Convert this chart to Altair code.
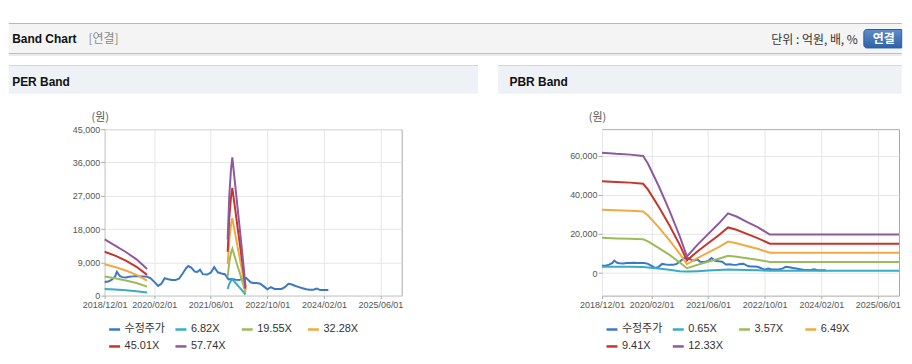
import altair as alt
import pandas as pd

FONT = "Liberation Sans, Noto Sans CJK KR"
CJK = "Noto Sans CJK KR, Liberation Sans"

# ---------------- data ----------------
X_START = (2018, 12, 1)
X_END = (2025, 12, 1)
X_TICKS = [(2018, 12, 1), (2020, 2, 1), (2021, 6, 1), (2022, 10, 1), (2024, 2, 1), (2025, 6, 1)]

PRICE_DATES = [
    "2018/12/01", "2019/01/01", "2019/02/01", "2019/03/01", "2019/03/16", "2019/04/10",
    "2019/05/01", "2019/06/01", "2019/07/01", "2019/08/01", "2019/09/01", "2019/10/01",
    "2019/11/01", "2019/12/01", "2020/01/01", "2020/02/01", "2020/03/05", "2020/04/01",
    "2020/05/01", "2020/06/01", "2020/07/01", "2020/08/01", "2020/09/01", "2020/10/01",
    "2020/11/01", "2020/11/20", "2020/12/15", "2021/01/15", "2021/02/05", "2021/03/01",
    "2021/03/25", "2021/05/01", "2021/06/01", "2021/07/01", "2021/08/01", "2021/09/01",
    "2021/10/01", "2021/11/01", "2021/12/01", "2022/01/01", "2022/02/01", "2022/03/01",
    "2022/04/01", "2022/05/10", "2022/06/01", "2022/07/01", "2022/08/01", "2022/09/01",
    "2022/10/01", "2022/11/01", "2022/12/01", "2023/01/01", "2023/02/01", "2023/03/01",
    "2023/04/01", "2023/05/01", "2023/06/01", "2023/07/01", "2023/08/01", "2023/09/01",
    "2023/10/01", "2023/11/01", "2023/12/01", "2024/01/01", "2024/02/01", "2024/03/10",
]
PRICE_VALUES = [
    3700, 3800, 4300, 5200, 6400, 5300,
    5000, 4900, 5100, 5200, 5300, 5200,
    5200, 5100, 4700, 3700, 2600, 3200,
    4700, 4400, 4200, 4200, 4600, 5900,
    7400, 8000, 7600, 6500, 6400, 7000,
    5800, 5700, 6200, 7700, 6300, 6000,
    5800, 4400, 4500, 4300, 4200, 4600,
    4800, 3600, 3400, 3400, 3200, 2500,
    1700, 2300, 1800, 1800, 1800, 2300,
    3200, 3000, 2600, 2300, 2000, 1700,
    1600, 1600, 1900, 1500, 1500, 1500,
]

PER_LABELS = ["수정주가", "6.82X", "19.55X", "32.28X", "45.01X", "57.74X"]
PER_DATES = [
    "2018/12/01", "2019/03/01", "2019/06/01", "2019/09/01", "2019/12/01",
    "2021/10/25", "2021/11/08", "2021/11/22", "2021/12/04", "2021/12/18", "2022/01/05",
    "2022/01/20", "2022/02/05", "2022/02/20", "2022/03/08", "2022/03/28",
]
PER_SEGMENTS = [0, 0, 0, 0, 0, 1, 1, 1, 1, 1, 1, 1, 1, 1, 1, 1]
PER_682 = [1800, 1650, 1450, 1200, 850, 1800, 3190, 4020, 4420, 3910, 3270, 2730, 2170, 1630, 1040, 300]
PER_1955 = [5150, 4700, 4100, 3400, 2440, 5150, 9140, 11510, 12660, 11210, 9380, 7820, 6230, 4670, 2980, 810]
PER_3228 = [8500, 7750, 6800, 5600, 4020, 8500, 15090, 19010, 20910, 18500, 15480, 12910, 10290, 7710, 4920, 1340]
PER_4501 = [11850, 10800, 9450, 7800, 5610, 11850, 21050, 26500, 29150, 25800, 21600, 18000, 14340, 10760, 6860, 1870]
PER_5774 = [15200, 13500, 11800, 9800, 7200, 15200, 27000, 34000, 37400, 33100, 27700, 23100, 18400, 13800, 8800, 2400]

PBR_LABELS = ["수정주가", "0.65X", "3.57X", "6.49X", "9.41X", "12.33X"]
PBR_DATES = [
    "2018/12/01", "2019/04/01", "2019/08/01", "2019/11/20", "2020/01/01", "2020/04/01",
    "2020/07/01", "2020/10/01", "2020/12/01", "2021/03/01", "2021/06/01", "2021/09/01",
    "2021/11/20", "2022/02/01", "2022/05/01", "2022/08/01", "2022/11/15", "2025/12/01",
]
PBR_SEGMENTS = [0] * 18
PBR_065 = [3200, 3200, 3200, 3150, 2900, 2300, 1700, 1000, 800, 1000, 1300, 1600, 1800, 1700, 1600, 1400, 1200, 1200]
PBR_357 = [18000, 17700, 17500, 17300, 16200, 12900, 9400, 5400, 2500, 4200, 5800, 7300, 8800, 8400, 7600, 6800, 5700, 5700]
PBR_649 = [32400, 32100, 31800, 31500, 29400, 23500, 17000, 9800, 4500, 7600, 10500, 13300, 16100, 15200, 13800, 12400, 10400, 10400]
PBR_941 = [46900, 46500, 46200, 45600, 42600, 34000, 24700, 14300, 6500, 11000, 15200, 19300, 23300, 22100, 20000, 17900, 15000, 15000]
PBR_1233 = [61500, 60900, 60500, 59800, 55800, 44600, 32300, 18700, 8500, 14400, 19900, 25300, 30500, 28900, 26200, 23500, 19700, 19700]

PER_Y_DOMAIN = [0, 45000]
PER_Y_TICKS = [0, 9000, 18000, 27000, 36000, 45000]
PBR_Y_DOMAIN = [-11500, 73500]
PBR_Y_TICKS = [0, 20000, 40000, 60000]

COLORS = ["#3c79c4", "#38abc6", "#9bbb59", "#f1aa42", "#c6352b", "#8e599f"]

# ---------------- layout (page pixels) ----------------
PLOT_W, PLOT_H = 298, 167
GAP = 201
OXL, OY = 104.3, 128.5
OXR = OXL + PLOT_W + GAP
RIGHT = 904


def dt(t):
    return alt.DateTime(year=t[0], month=t[1], date=t[2])


def build_df(labels, dates, segs, bands):
    frames = [pd.DataFrame({"date": PRICE_DATES, "value": PRICE_VALUES,
                            "series": labels[0], "seg": "price"})]
    for name, vals in zip(labels[1:], bands):
        frames.append(pd.DataFrame({"date": dates, "value": vals, "series": name,
                                    "seg": [f"{name}_{s}" for s in segs]}))
    return pd.concat(frames, ignore_index=True)


ONE = pd.DataFrame({"k": [0]})


def box(x1, x2, y1, y2, ox, fill, **kw):
    return alt.Chart(ONE).mark_rect(fill=fill, **kw).encode(
        x=alt.value(x1 - ox), x2=alt.value(x2 - ox),
        y=alt.value(y1 - OY), y2=alt.value(y2 - OY))


def label(txt, x, y, ox, **kw):
    return alt.Chart(pd.DataFrame({"t": [txt]})).mark_text(**kw).encode(
        x=alt.value(x - ox), y=alt.value(y - OY), text="t:N")


def panel(df, labels, ydomain, yticks, decos):
    lines = alt.Chart(df).mark_line(strokeWidth=2).encode(
        x=alt.X("date:T",
                scale=alt.Scale(domain=[dt(X_START), dt(X_END)]),
                axis=alt.Axis(values=[dt(t) for t in X_TICKS], format="%Y/%m/%d",
                              title=None, labelFont=FONT, labelFontSize=9,
                              labelColor="#555", labelFlush=False, labelOverlap=False,
                              tickColor="#aaaaaa", tickSize=3, labelPadding=2,
                              domain=False, gridColor="#e6e6e6")),
        y=alt.Y("value:Q",
                scale=alt.Scale(domain=ydomain, nice=False, zero=False),
                axis=alt.Axis(values=yticks, format=",d", title="(원)",
                              titleAngle=0, titleX=-5, titleY=-11.5,
                              titleAlign="center", titleBaseline="middle",
                              titleFont=CJK, titleFontSize=11, titleFontWeight="normal",
                              titleColor="#555", labelFont=FONT, labelFontSize=9,
                              labelColor="#555", tickColor="#aaaaaa", tickSize=4,
                              labelPadding=1, domain=False, gridColor="#e6e6e6")),
        color=alt.Color("series:N",
                        scale=alt.Scale(domain=labels, range=COLORS),
                        legend=alt.Legend(title=None, orient="none", legendX=3, legendY=194,
                                          direction="horizontal", columns=4, gridAlign="all",
                                          symbolType="stroke", symbolSize=121,
                                          symbolStrokeWidth=2.5, labelFont=FONT,
                                          labelFontSize=11, labelColor="#333",
                                          labelOffset=3, columnPadding=4.5, rowPadding=5,
                                          padding=0)),
        detail="seg:N",
    )
    return alt.layer(*decos, lines).properties(width=PLOT_W, height=PLOT_H)


left_decos = [
    box(8, RIGHT, 8, 22, OXL, "#ffffff"),
    box(8, RIGHT, 22, 23, OXL, "#b8b8b8"),
    box(8, RIGHT, 23, 52, OXL, "#f4f4f4"),
    box(8, RIGHT, 52, 53, OXL, "#bdbdbd"),
    box(8, RIGHT, 53, 55, OXL, "#ebebeb"),
    label("Band Chart", 11.5, 42.5, OXL, align="left", baseline="alphabetic",
          font=FONT, fontSize=12, fontWeight="bold", color="#111"),
    label("[연결]", 88, 42.5, OXL, align="left", baseline="alphabetic",
          font=CJK, fontSize=12, color="#8a8a8a"),
    label("단위 : 억원, 배, %", 860, 43, OXL, align="right", baseline="alphabetic",
          font=CJK, fontSize=12, color="#333"),
    box(866, RIGHT, 28.5, 47, OXL,
        alt.LinearGradient(gradient="linear",
                           stops=[alt.GradientStop(color="#5d8dcc", offset=0),
                                  alt.GradientStop(color="#2f62a6", offset=1)],
                           x1=0, x2=0, y1=0, y2=1),
        stroke="#2d5c9c", strokeWidth=1, cornerRadiusTopLeft=3, cornerRadiusBottomLeft=3),
    label("연결", 886, 42, OXL, align="center", baseline="alphabetic",
          font=CJK, fontSize=12, fontWeight="bold", color="#ffffff"),
    box(8, 479, 64, 65, OXL, "#d6d6d6"),
    box(8, 479, 65, 93, OXL, "#eef2f7"),
    label("PER Band", 11.5, 85, OXL, align="left", baseline="alphabetic",
          font=FONT, fontSize=12, fontWeight="bold", color="#111"),
]

right_decos = [
    box(499, RIGHT, 64, 65, OXR, "#d6d6d6"),
    box(499, RIGHT, 65, 93, OXR, "#eef2f7"),
    label("PBR Band", 510.5, 85, OXR, align="left", baseline="alphabetic",
          font=FONT, fontSize=12, fontWeight="bold", color="#111"),
]

per_df = build_df(PER_LABELS, PER_DATES, PER_SEGMENTS,
                  [PER_682, PER_1955, PER_3228, PER_4501, PER_5774])
pbr_df = build_df(PBR_LABELS, PBR_DATES, PBR_SEGMENTS,
                  [PBR_065, PBR_357, PBR_649, PBR_941, PBR_1233])

left = panel(per_df, PER_LABELS, PER_Y_DOMAIN, PER_Y_TICKS, left_decos)
right = panel(pbr_df, PBR_LABELS, PBR_Y_DOMAIN, PBR_Y_TICKS, right_decos)

chart = alt.hconcat(left, right, spacing=GAP, bounds="flush").resolve_scale(
    color="independent", x="independent", y="independent"
).properties(padding=0, background="#ffffff").configure_view(
    stroke="#aaaaaa", strokeWidth=1
)

chart.save("out.html", embed_options={"renderer": "svg", "actions": False})
